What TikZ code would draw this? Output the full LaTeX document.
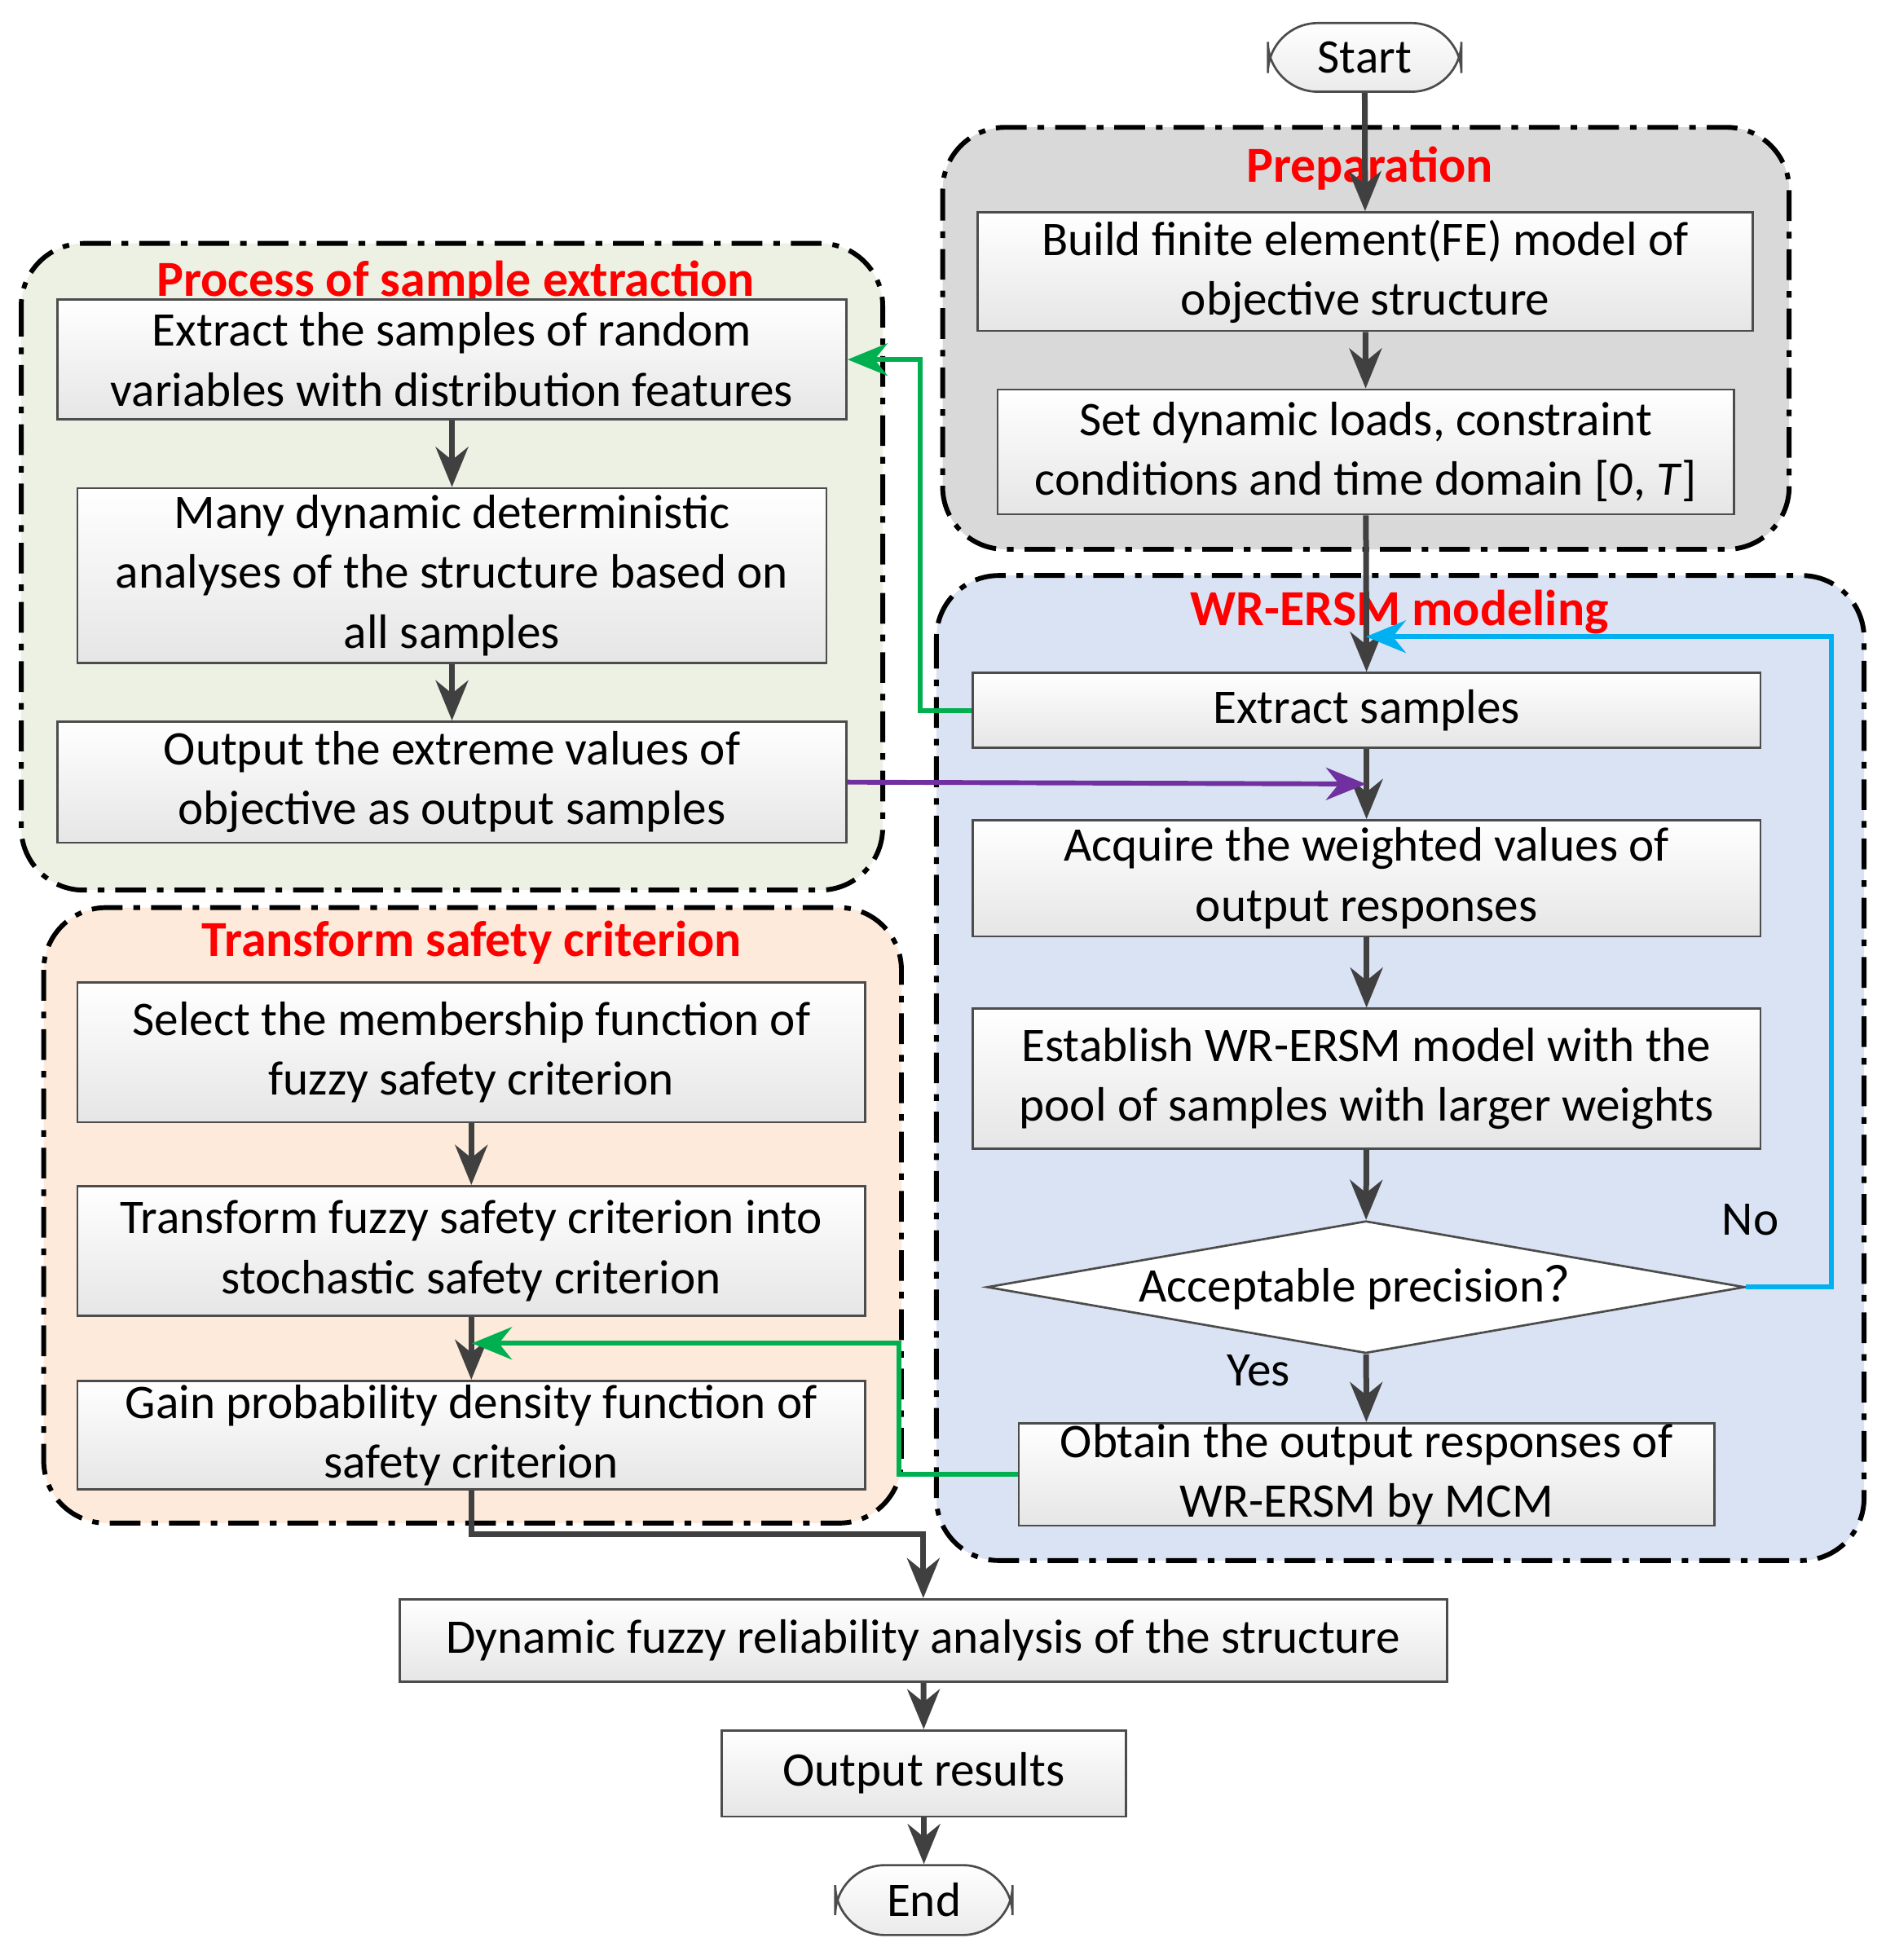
\documentclass[tikz,border=0pt]{standalone}
\usepackage{fontspec}
\setmainfont{Carlito}
\newfontfamily\cjk{Noto Sans CJK SC}
\usetikzlibrary{shapes.geometric,arrows.meta}
\begin{document}
\begin{tikzpicture}[x=0.1mm,y=-0.1mm,
  font=\fontsize{11}{13.6}\selectfont,
  box/.style={draw=black!70,line width=0.5pt,top color=white,bottom color=black!10,align=center,inner sep=0pt},
  grp/.style={draw=black,line width=1.1pt,rounded corners=5mm,dash pattern=on 7pt off 2.5pt on 1.5pt off 2.5pt},
  ttl/.style={text=red,font=\fontsize{11.5}{13.6}\selectfont\bfseries},
  arr/.style={draw=black!75,line width=1.3pt,-{Stealth[length=3.2mm,width=2.6mm]}},
  carr/.style={line width=1.1pt,-{Stealth[length=3.2mm,width=2.6mm]}}]
\useasboundingbox (0,0) rectangle (1510,1570);
% groups
\fill[black!15] (755,102) [rounded corners=5mm] rectangle (1433,440);
\draw[grp] (755,102) rectangle (1433,440);
\fill[rounded corners=5mm,fill={rgb,255:red,236;green,241;blue,228}] (17,195) rectangle (707,713);
\draw[grp] (17,195) rectangle (707,713);
\fill[rounded corners=5mm,fill={rgb,255:red,253;green,234;blue,218}] (35,727) rectangle (722,1220);
\draw[grp] (35,727) rectangle (722,1220);
\fill[rounded corners=5mm,fill={rgb,255:red,218;green,227;blue,243}] (750,461) rectangle (1493,1250);
\draw[grp] (750,461) rectangle (1493,1250);
% titles
\node[ttl] (tp) at (1097,135) {Preparation};
\node[ttl] (ts) at (365,226) {Process of sample extraction};
\node[ttl] (tt) at (378,755) {Transform safety criterion};
\node[ttl] (tw) at (1121,490) {WR-ERSM modeling};
% nodes
\node[draw=black!70,line width=0.5pt,rounded corners=4mm,top color=white,bottom color=black!8,minimum width=15.5mm,minimum height=5.5mm] (start) at (1093,46) {Start};
\node[box,minimum width=62.1mm,minimum height=9.5mm] (b1) at (1093.5,217.5) {Build finite element(FE) model of\\objective structure};
\node[box,minimum width=59mm,minimum height=10mm] (b2) at (1094,362) {Set dynamic loads, constraint\\conditions and time domain [0, \textit{T}]};
\node[box,minimum width=63.2mm,minimum height=9.6mm] (s1) at (362,288) {Extract the samples of random\\variables with distribution features};
\node[box,minimum width=60mm,minimum height=14mm] (s2) at (362,461) {Many dynamic deterministic\\analyses of the structure based on\\all samples};
\node[box,minimum width=63.2mm,minimum height=9.7mm] (s3) at (362,626.5) {Output the extreme values of\\objective as output samples};
\node[box,minimum width=63.1mm,minimum height=11.2mm] (t1) at (377.5,843) {Select the membership function of\\fuzzy safety criterion};
\node[box,minimum width=63.1mm,minimum height=10.4mm] (t2) at (377.5,1002) {Transform fuzzy safety criterion into\\stochastic safety criterion};
\node[box,minimum width=63.1mm,minimum height=8.7mm] (t3) at (377.5,1149.5) {Gain probability density function of\\safety criterion};
\node[box,minimum width=63.1mm,minimum height=6mm] (w1) at (1094.5,569) {Extract samples};
\node[box,minimum width=63.1mm,minimum height=9.3mm] (w2) at (1094.5,703.5) {Acquire the weighted values of\\output responses};
\node[box,minimum width=63.1mm,minimum height=11.2mm] (w3) at (1094.5,864) {Establish WR-ERSM model with the\\pool of samples with larger weights};
\node[diamond,draw=black!70,line width=0.5pt,fill=white,minimum width=60.7mm,minimum height=10.6mm,inner sep=0pt] (d) at (1094,1031) {};
\node (dt) at (1094,1031) {Acceptable precision{\cjk ？}};
\node[box,minimum width=55.7mm,minimum height=8.2mm] (w4) at (1094.5,1181) {Obtain the output responses of\\WR-ERSM by MCM};
\node[box,minimum width=83.9mm,minimum height=6.6mm] (fin) at (739.5,1314) {Dynamic fuzzy reliability analysis of the structure};
\node[box,minimum width=32.4mm,minimum height=6.9mm] (out) at (740,1420.5) {Output results};
\node[draw=black!70,line width=0.5pt,rounded corners=4mm,top color=white,bottom color=black!8,minimum width=14.2mm,minimum height=5.6mm] (end) at (740,1522) {End};
\node (yes) at (1008,1098) {Yes};
\node (no) at (1402,977) {No};
% coordinates
\coordinate (pm) at (1094,628);
\coordinate (bt) at (1094,510);
\coordinate (gt) at (378,1076);
% arrows
\draw[arr] (start) -- (b1);
\draw[arr] (b1) -- (b2);
\draw[arr] (b2.south) -- (w1.north);
\draw[arr] (w1) -- (w2);
\draw[arr] (w2) -- (w3);
\draw[arr] (w3) -- (d);
\draw[arr] (d) -- (w4);
\draw[arr] (s1.south) -- (s2.north);
\draw[arr] (s2) -- (s3);
\draw[arr] (t1.south) -- (t1.south|-t2.north);
\draw[arr] (t2.south) -- (t2.south|-t3.north);
\draw[arr] (t3.south) -- ++(0,35) -| (fin.north);
\draw[arr] (fin) -- (out);
\draw[arr] (out) -- (end);
\draw[carr,draw={rgb,255:red,112;green,48;blue,160}] (s3.east) -- (pm);
\draw[carr,draw={rgb,255:red,0;green,176;blue,240}] (d.east) -- (1467,1031) |- (bt);
\draw[carr,draw={rgb,255:red,0;green,176;blue,80}] (w1.west) -- (737,569) |- (s1.east);
\draw[carr,draw={rgb,255:red,0;green,176;blue,80}] (w4.west) -- (720,1181) |- (gt);
\end{tikzpicture}
\end{document}
